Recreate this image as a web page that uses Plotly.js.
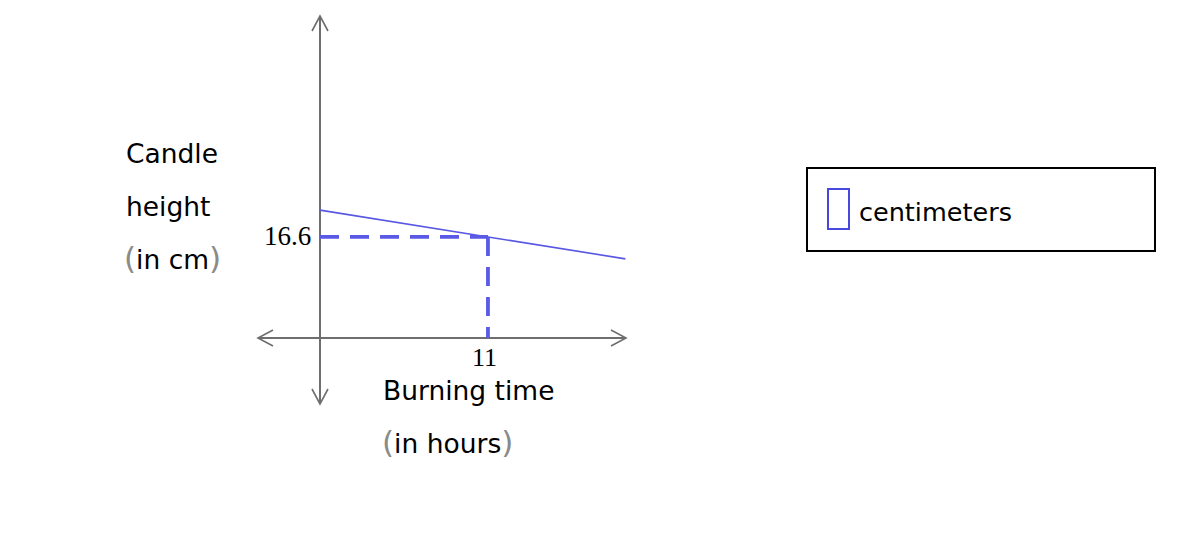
<!DOCTYPE html>
<html>
<head>
<meta charset="utf-8">
<script src="https://cdn.plot.ly/plotly-3.0.1.min.js"></script>
<style>
html,body{margin:0;padding:0;background:#fff;}
#chart{width:1188px;height:546px;}
</style>
</head>
<body>
<div id="chart"></div>
<script>
// ---- data ----
const burnHours = [0, 20];          // hours
const heightCm = [21, 13];          // centimeters
const markHour = [11];
const markHeight = [16.6];
const xTickLabels = ['11'];
const yTickLabels = ['16.6'];
const seriesName = 'centimeters';
const yTitleLines = ['Candle', 'height', 'in cm'];
const xTitleLines = ['Burning time', 'in hours'];

// ---- layout geometry ----
const W = 1188, H = 546;
const L = 258, R = 626, T = 16, B = 404;
const xRange = [-4.06, 20.04];
const yRange = [-10.85, 52.9];
const px = x => (x - L) / (R - L);
const py = y => (B - y) / (B - T);

const blue = '#5858e2';
const dashBlue = '#5a5ae6';
const axisGray = '#6e6e6e';
const sans = 'DejaVu Sans, Verdana, sans-serif';
const serif = 'Liberation Serif, Times New Roman, serif';
const fs = 26.5;
const dashLine = {color: dashBlue, width: 3.8, dash: '19px,11px'};

const traces = [
  {
    x: burnHours, y: heightCm, mode: 'lines', name: seriesName,
    line: {color: blue, width: 1.6}, hoverinfo: 'skip', showlegend: false
  },
  {
    x: [0, markHour[0]], y: [markHeight[0], markHeight[0]],
    mode: 'lines', line: dashLine, hoverinfo: 'skip', showlegend: false
  },
  {
    x: [markHour[0], markHour[0]], y: [markHeight[0], 0],
    mode: 'lines', line: dashLine, hoverinfo: 'skip', showlegend: false
  }
];

function chevron(tip, a, b) {
  return {
    type: 'path', xref: 'paper', yref: 'paper',
    path: `M ${px(a[0])},${py(a[1])} L ${px(tip[0])},${py(tip[1])} L ${px(b[0])},${py(b[1])}`,
    line: {color: axisGray, width: 1.6}
  };
}
const ox = L + (0 - xRange[0]) / (xRange[1] - xRange[0]) * (R - L);
const oy = B - (0 - yRange[0]) / (yRange[1] - yRange[0]) * (B - T);

const shapes = [
  chevron([ox, T], [ox - 8, T + 15], [ox + 8, T + 15]),
  chevron([ox, B], [ox - 8, B - 15], [ox + 8, B - 15]),
  chevron([L, oy], [L + 15, oy - 8], [L + 15, oy + 8]),
  chevron([R, oy], [R - 15, oy - 8], [R - 15, oy + 8]),
  // legend box
  {type: 'rect', xref: 'paper', yref: 'paper', x0: px(807), x1: px(1155), y0: py(251), y1: py(168),
   line: {color: '#000', width: 2}, fillcolor: 'rgba(0,0,0,0)'},
  // legend symbol
  {type: 'rect', xref: 'paper', yref: 'paper', x0: px(828), x1: px(849), y0: py(229), y1: py(189),
   line: {color: '#4848dc', width: 2}, fillcolor: 'rgba(0,0,0,0)'}
];

const paren = s => `<span style="color:#8a8a8a;font-size:31px;font-family:DejaVu Sans ExtraLight, DejaVu Sans">(</span>${s}<span style="color:#8a8a8a;font-size:31px;font-family:DejaVu Sans ExtraLight, DejaVu Sans">)</span>`;

const annotations = [
  {x: 0, y: markHeight[0], xref: 'x', yref: 'y', text: yTickLabels[0], showarrow: false,
   xanchor: 'right', yanchor: 'middle', xshift: -7, yshift: 1, font: {family: serif, size: 27, color: '#000'}},
  {x: markHour[0], y: 0, xref: 'x', yref: 'y', text: xTickLabels[0], showarrow: false,
   xanchor: 'center', yanchor: 'top', xshift: -3, yshift: -3, font: {family: serif, size: 26, color: '#000'}},
  {x: px(124), y: py(154), xref: 'paper', yref: 'paper', text: yTitleLines[0], showarrow: false,
   xanchor: 'left', yanchor: 'middle', font: {family: sans, size: fs, color: '#000'}},
  {x: px(124), y: py(206), xref: 'paper', yref: 'paper', text: yTitleLines[1], showarrow: false,
   xanchor: 'left', yanchor: 'middle', font: {family: sans, size: fs, color: '#000'}},
  {x: px(122), y: py(258), xref: 'paper', yref: 'paper', text: paren(yTitleLines[2]), showarrow: false,
   xanchor: 'left', yanchor: 'middle', font: {family: sans, size: fs, color: '#000'}},
  {x: px(381), y: py(390), xref: 'paper', yref: 'paper', text: xTitleLines[0], showarrow: false,
   xanchor: 'left', yanchor: 'middle', font: {family: sans, size: fs, color: '#000'}},
  {x: px(380), y: py(442), xref: 'paper', yref: 'paper', text: paren(xTitleLines[1]), showarrow: false,
   xanchor: 'left', yanchor: 'middle', font: {family: sans, size: fs, color: '#000'}},
  {x: px(857), y: py(212), xref: 'paper', yref: 'paper', text: seriesName, showarrow: false,
   xanchor: 'left', yanchor: 'middle', font: {family: sans, size: 25.5, color: '#000'}}
];

const layout = {
  width: W, height: H,
  margin: {l: L, r: W - R, t: T, b: H - B, pad: 0},
  paper_bgcolor: '#fff', plot_bgcolor: '#fff',
  showlegend: false,
  xaxis: {range: xRange, showgrid: false, showticklabels: false, ticks: '', zeroline: true,
          zerolinecolor: axisGray, zerolinewidth: 1.6, showline: false, fixedrange: true},
  yaxis: {range: yRange, showgrid: false, showticklabels: false, ticks: '', zeroline: true,
          zerolinecolor: axisGray, zerolinewidth: 1.6, showline: false, fixedrange: true},
  shapes: shapes,
  annotations: annotations
};

Plotly.newPlot('chart', traces, layout, {displayModeBar: false, staticPlot: true});
</script>
</body>
</html>
